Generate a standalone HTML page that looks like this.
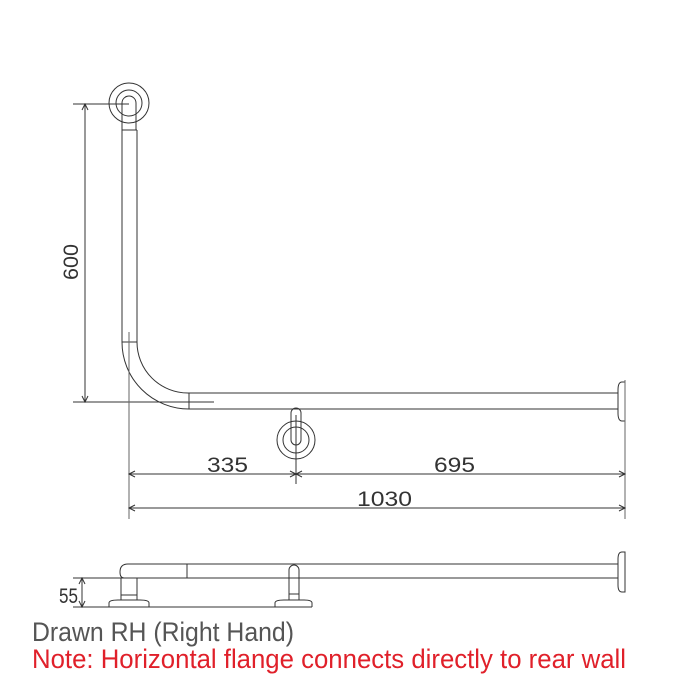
<!DOCTYPE html>
<html><head><style>body{margin:0;background:#fff}svg{display:block}</style></head><body>
<svg width="700" height="700" viewBox="0 0 700 700" xmlns="http://www.w3.org/2000/svg" fill="none" stroke="#333" stroke-width="1">
<circle cx="129" cy="103" r="20"/>
<circle cx="129" cy="103" r="13"/>
<path d="M122 130 V103 A7 7 0 0 1 136 103 V130"/>
<line x1="122" y1="130" x2="137" y2="130"/>
<line x1="122" y1="130" x2="122" y2="342"/>
<line x1="137" y1="130" x2="137" y2="342"/>
<line x1="122" y1="342" x2="137" y2="342"/>
<path d="M122 342 A67 67 0 0 0 189 409"/>
<path d="M137 342 A51 51 0 0 0 188 393"/>
<line x1="189" y1="393" x2="189" y2="409"/>
<line x1="188" y1="393" x2="618" y2="393"/>
<line x1="189" y1="409" x2="618" y2="409"/>
<path d="M625 382 H622 Q618 382 618 390 V413 Q618 421 622 421 H625"/>
<line x1="625" y1="380" x2="625" y2="519" stroke="#666"/>
<line x1="73" y1="104" x2="129" y2="104"/>
<line x1="73" y1="402" x2="214" y2="402"/>
<line x1="85" y1="104" x2="85" y2="402"/>
<path d="M82 110 L85 104 L88 110 M82 396 L85 402 L88 396"/>
<line x1="129" y1="332" x2="129" y2="519" stroke="#666"/>
<circle cx="296" cy="440" r="19"/>
<circle cx="296" cy="440" r="13"/>
<path d="M291 440 V413 A5 5 0 0 1 301 413 V440 A5 5 0 0 1 291 440"/>
<line x1="296" y1="415" x2="296" y2="484"/>
<line x1="129" y1="474" x2="625" y2="474"/>
<path d="M135 471 L129 474 L135 477 M290 471 L296 474 L290 477 M302 471 L296 474 L302 477 M619 471 L625 474 L619 477"/>
<line x1="129" y1="508" x2="625" y2="508"/>
<path d="M135 505 L129 508 L135 511 M619 505 L625 508 L619 511"/>
<path d="M618 564 H128 Q120 564 120 572 Q120 578 124 578"/>
<line x1="122" y1="578" x2="618" y2="578"/>
<line x1="187" y1="564" x2="187" y2="578"/>
<line x1="73" y1="578" x2="122" y2="578"/>
<path d="M121 578 V600 M137 578 V600 M121 595 H137"/>
<path d="M109 607 V603 Q109 600 118 600 H140 Q149 600 149 603 V607"/>
<path d="M289 600 V570 A5 5 0 0 1 299 570 V600 M289 594 H299"/>
<path d="M275 607 V603 Q275 600 284 600 H304 Q312 600 312 603 V607"/>
<line x1="73" y1="607" x2="312" y2="607"/>
<line x1="82" y1="578" x2="82" y2="607"/>
<path d="M79 584 L82 578 L85 584 M79 601 L82 607 L85 601"/>
<path d="M625 552 H622 Q618 552 618 559 V585 Q618 592 622 592 H625 Z"/>
<g fill="#333" stroke="none" font-family="'Liberation Sans',sans-serif" font-size="21" lengthAdjust="spacingAndGlyphs">
<text x="207" y="472" textLength="41" lengthAdjust="spacingAndGlyphs">335</text>
<text x="434" y="472" textLength="41" lengthAdjust="spacingAndGlyphs">695</text>
<text x="357" y="506" textLength="55" lengthAdjust="spacingAndGlyphs">1030</text>
<text transform="translate(78 262) rotate(-90)" x="-18" textLength="36" lengthAdjust="spacingAndGlyphs">600</text>
<text x="59" y="603" textLength="19" lengthAdjust="spacingAndGlyphs">55</text>
</g>
<text x="32" y="641" fill="#555" stroke="none" font-family="'Liberation Sans',sans-serif" font-size="27" textLength="262" lengthAdjust="spacingAndGlyphs">Drawn RH (Right Hand)</text>
<text x="32" y="668" fill="#e0202a" stroke="none" font-family="'Liberation Sans',sans-serif" font-size="27" textLength="594" lengthAdjust="spacingAndGlyphs">Note: Horizontal flange connects directly to rear wall</text>
</svg>
</body></html>
